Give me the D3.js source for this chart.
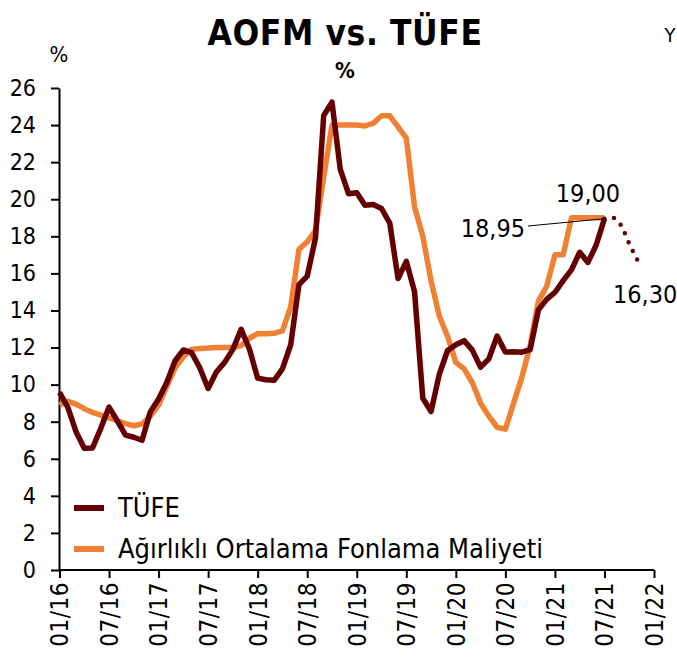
<!DOCTYPE html>
<html><head><meta charset="utf-8">
<script src="https://cdn.jsdelivr.net/npm/d3@7"></script>
<style>
body{margin:0;background:#fff}
text{font-family:"DejaVu Sans Condensed","DejaVu Sans",sans-serif}
</style></head>
<body><svg id="c" width="677" height="662"></svg>
<script>
// month index 0 = 01/2016
const tickLabels = ["01/16","07/16","01/17","07/17","01/18","07/18","01/19","07/19","01/20","07/20","01/21","07/21","01/22"];
const yTicks = [0,2,4,6,8,10,12,14,16,18,20,22,24,26];
const tufe = [9.58,8.78,7.46,6.57,6.58,7.64,8.79,8.05,7.28,7.16,7.00,8.53,
  9.22,10.13,11.29,11.87,11.72,10.90,9.79,10.68,11.20,11.90,12.98,11.92,
  10.35,10.26,10.23,10.85,12.15,15.39,15.85,17.90,24.52,25.24,21.62,20.30,
  20.35,19.67,19.71,19.50,18.71,15.72,16.65,15.01,9.26,8.55,10.56,11.84,
  12.15,12.37,11.86,10.94,11.39,12.62,11.76,11.77,11.75,11.89,14.03,14.60,
  14.97,15.61,16.19,17.14,16.59,17.53,18.95];
const aofm = [8.9,9.1,8.95,8.7,8.5,8.35,8.2,8.05,7.9,7.78,7.88,8.3,
  8.9,9.9,10.9,11.5,11.9,11.95,11.97,12.0,12.0,12.0,12.1,12.5,
  12.75,12.75,12.77,12.9,14.2,17.3,17.7,18.3,21.2,24.0,24.0,24.0,
  24.0,23.95,24.1,24.5,24.5,23.9,23.3,19.6,18.0,15.6,13.7,12.6,
  11.2,10.85,10.1,9.0,8.3,7.7,7.6,9.0,10.4,12.1,14.5,15.3,
  17.0,17.0,19.0,19.0,19.0,19.0,19.0];
const forecastMonths = [66,67,68,69,70.5];
const forecast = [18.95,19.0,18.6,17.6,16.3];
const seriesNames = ["TÜFE","Ağırlıklı Ortalama Fonlama Maliyeti"];
const colors = ["#640000","#F08033"];

const svg = d3.select("#c");
const x = d3.scaleLinear().domain([0,72]).range([59.5,654]);
const y = d3.scaleLinear().domain([0,26]).range([570,88]);

// axes
const yAxis = svg.append("g").attr("transform","translate(59,0)")
  .call(d3.axisLeft(y).tickValues(yTicks).tickSize(8).tickPadding(15).tickSizeOuter(0));
yAxis.selectAll("text").style("font-size","23px").attr("fill","#000");
yAxis.selectAll("line,path").attr("stroke","#000").attr("stroke-width",2);

const xAxis = svg.append("g").attr("transform","translate(0,570)")
  .call(d3.axisBottom(x).tickValues(d3.range(0,73,6)).tickFormat((d,i)=>tickLabels[i]).tickSize(8).tickSizeOuter(0));
xAxis.select("path").attr("d","M59,0H654");
xAxis.selectAll("line,path").attr("stroke","#000").attr("stroke-width",2);
xAxis.selectAll("text").style("font-size","24px").attr("fill","#000")
  .attr("transform","rotate(-90)").attr("text-anchor","end").attr("dy","0.35em").attr("x",-12).attr("y",0)
  .style("letter-spacing","0.5px");

const line = d3.line().x((d,i)=>x(i)).y(d=>y(d));
svg.append("path").datum(aofm).attr("d",line).attr("fill","none")
  .attr("stroke",colors[1]).attr("stroke-width",5.5).attr("stroke-linejoin","round");
svg.append("path").datum(tufe).attr("d",line).attr("fill","none")
  .attr("stroke",colors[0]).attr("stroke-width",5.5).attr("stroke-linejoin","round");

const fline = d3.line().x((d,i)=>x(forecastMonths[i])).y(d=>y(d)).curve(d3.curveMonotoneX);
const fp = svg.append("path").datum(forecast).attr("d",fline).attr("fill","none")
  .attr("stroke",colors[0]).attr("stroke-width",4.5).attr("stroke-linecap","round");
const len = fp.node().getTotalLength();
const gap = len / Math.max(1, Math.round(len/10));
fp.attr("stroke-dasharray", "0 " + gap);

// labels
const last = tufe.length-1;
svg.append("line").attr("x1",528).attr("y1",226).attr("x2",x(last)).attr("y2",y(tufe[last]))
  .attr("stroke","#000").attr("stroke-width",1);
svg.append("text").attr("x",525).attr("y",237).attr("text-anchor","end").style("font-size","25px").text("18,95");
svg.append("text").attr("x",588).attr("y",202).attr("text-anchor","middle").style("font-size","25px").text("19,00");
svg.append("text").attr("x",613).attr("y",303).attr("text-anchor","start").style("font-size","25px").text("16,30");

// titles
svg.append("text").attr("x",345).attr("y",45).attr("text-anchor","middle")
  .style("font-size","35px").style("font-weight","bold").style("letter-spacing","0.6px").text("AOFM vs. TÜFE");
svg.append("text").attr("x",345).attr("y",78).attr("text-anchor","middle")
  .style("font-size","22px").style("font-weight","bold").text("%");
svg.append("text").attr("x",59).attr("y",62).attr("text-anchor","middle")
  .style("font-size","22px").text("%");
svg.append("text").attr("x",670).attr("y",42).attr("text-anchor","middle")
  .style("font-size","20px").text("Y");

// legend
const lg = svg.append("g");
seriesNames.forEach((n,i)=>{
  const yy = 508 + i*41;
  lg.append("line").attr("x1",74).attr("x2",104).attr("y1",yy).attr("y2",yy)
    .attr("stroke",colors[i]).attr("stroke-width",6);
  lg.append("text").attr("x",118).attr("y",yy).attr("dy","0.35em").style("font-size","27px").text(n);
});
</script></body></html>
